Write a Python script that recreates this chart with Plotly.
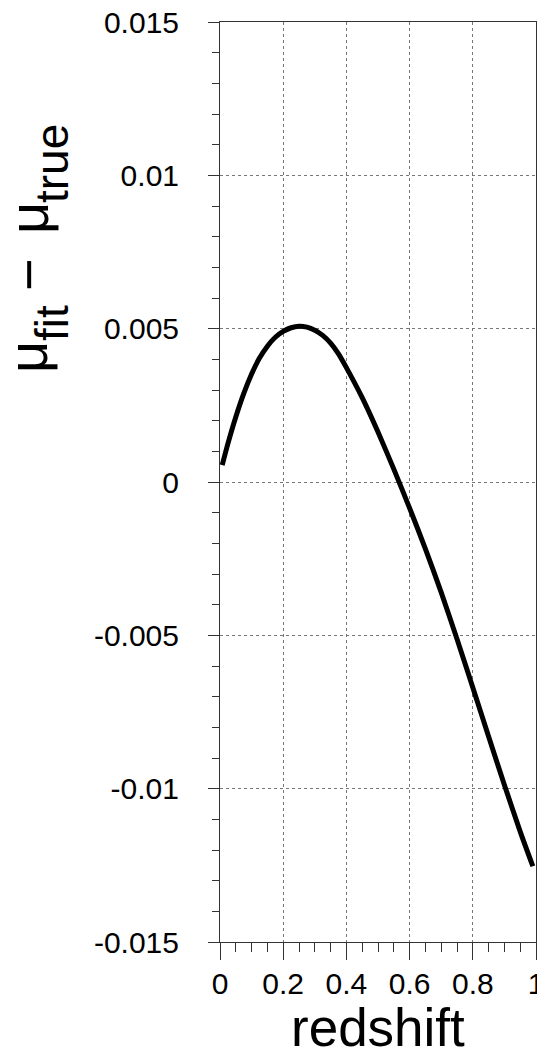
import plotly.graph_objects as go

# Data
redshift = [0.007, 0.025, 0.05, 0.075, 0.1, 0.125, 0.15, 0.175, 0.2, 0.225, 0.25, 0.275,
            0.3, 0.325, 0.35, 0.375, 0.4, 0.45, 0.5, 0.55, 0.6, 0.65, 0.7, 0.75, 0.8,
            0.85, 0.9, 0.95, 0.99]
dmu = [0.00055, 0.00125, 0.00212, 0.00288, 0.00352, 0.00404, 0.00443, 0.00472, 0.00491,
       0.00503, 0.00508, 0.00505, 0.00495, 0.00478, 0.00453, 0.00418, 0.00373, 0.00275,
       0.00163, 0.00042, -0.00085, -0.00218, -0.00360, -0.00512, -0.00670, -0.00830,
       -0.00988, -0.01140, -0.01253]

x_ticks = [0, 0.2, 0.4, 0.6, 0.8, 1]
x_ticktext = ["0", "0.2", "0.4", "0.6", "0.8", "1"]
y_ticks = [0.015, 0.01, 0.005, 0, -0.005, -0.01, -0.015]
y_ticktext = ["0.015", "0.01", "0.005", "0", "-0.005", "-0.01", "-0.015"]

FONT = "Liberation Sans, Arial, Helvetica, sans-serif"
AX = "#333333"
GRID = "#777777"

W, H = 537, 1056
ML, MR, MT, MB = 220, 1, 22, 114
PW, PH = W - ML - MR, H - MT - MB


def px(X):
    return (X - ML) / PW


def py(Y):
    return (H - MB - Y) / PH


fig = go.Figure()
fig.add_trace(go.Scatter(x=redshift, y=dmu, mode="lines",
                         line=dict(color="black", width=5, shape="spline", smoothing=0.6),
                         showlegend=False, hoverinfo="skip"))

fig.update_layout(
    width=W, height=H, autosize=False,
    margin=dict(l=ML, r=MR, t=MT, b=MB, pad=0, autoexpand=False),
    paper_bgcolor="white", plot_bgcolor="white",
    font=dict(family=FONT, color="black"),
    showlegend=False,
)

fig.update_xaxes(
    range=[0, 1], tickvals=x_ticks, ticktext=x_ticktext,
    automargin=False,
    showline=True, linecolor=AX, linewidth=1, mirror=True,
    ticks="outside", ticklen=17, tickwidth=1, tickcolor=AX,
    tickfont=dict(size=30, family=FONT, color="black"),
    ticklabelstandoff=-2, ticklabeloverflow="allow",
    showgrid=True, gridcolor=GRID, griddash="dot", gridwidth=1,
    zeroline=False,
    minor=dict(dtick=0.05, ticks="outside", ticklen=9, tickcolor=AX, showgrid=False),
)
fig.update_yaxes(
    range=[-0.015, 0.015], tickvals=y_ticks, ticktext=y_ticktext,
    automargin=False,
    showline=True, linecolor=AX, linewidth=1, mirror=True,
    ticks="outside", ticklen=11, tickwidth=1, tickcolor=AX,
    tickfont=dict(size=30, family=FONT, color="black"),
    ticklabelstandoff=23, ticklabeloverflow="allow",
    showgrid=True, gridcolor=GRID, griddash="dot", gridwidth=1,
    zeroline=False,
    minor=dict(dtick=0.001, ticks="outside", ticklen=7, tickcolor=AX, showgrid=False),
)

# x-axis title
fig.add_annotation(
    text="redshift", xref="paper", yref="paper", x=0.5, y=py(1027),
    xanchor="center", yanchor="middle", showarrow=False,
    font=dict(size=53, family=FONT, color="black"),
)

# y-axis title, built piece by piece (rotated)
MAIN, SUB = 56, 46
pieces = [
    ("μ", MAIN, 28, 357),
    ("fit", SUB, 52, 323),
    ("−", MAIN, 28, 275),
    ("μ", MAIN, 28, 218),
    ("true", SUB, 52, 164),
]
for txt, size, X, Y in pieces:
    fig.add_annotation(
        text=txt, xref="paper", yref="paper", x=px(X), y=py(Y),
        xanchor="center", yanchor="middle", textangle=-90, showarrow=False,
        font=dict(size=size, family=FONT, color="black"),
    )

# remove the default page margin so the figure fills the window exactly
fig.write_html("out.html",
               config={"responsive": False, "displayModeBar": False},
               post_script="document.body.style.margin='0';document.body.style.overflow='hidden';")
